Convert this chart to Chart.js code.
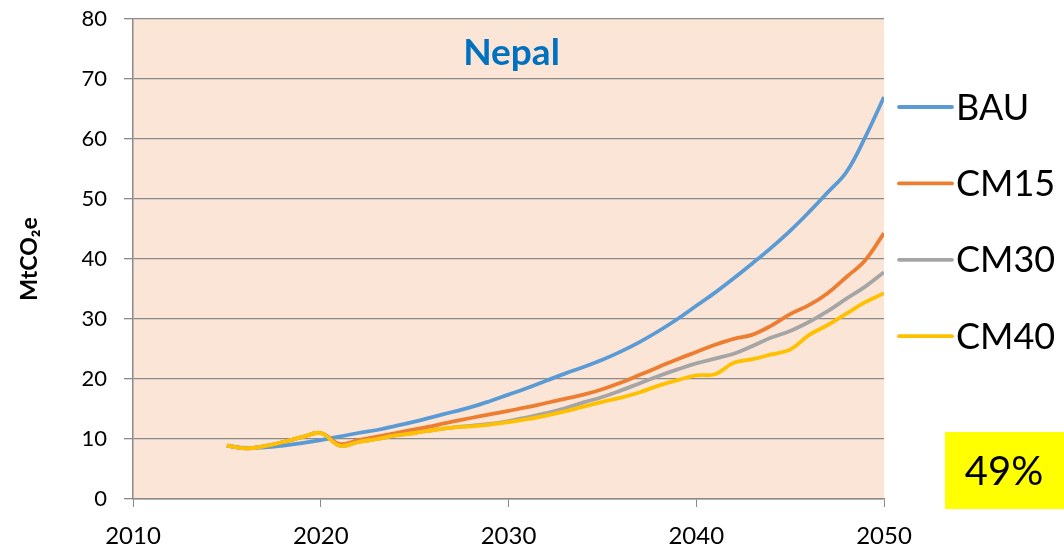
<!DOCTYPE html>
<html lang="en">
  <head>
    <meta charset="UTF-8" />
    <meta name="viewport" content="width=device-width, initial-scale=1.0" />
    <title>Nepal</title>
    <script src="https://cdn.jsdelivr.net/npm/chart.js"></script>
    <style>
      body {
        margin: 0;
        background: #fff;
      }
      .chart-box {
        width: 1064px;
        height: 547px;
      }
    </style>
  </head>
  <body>
    <div class="chart-box">
      <canvas id="myChart"></canvas>
    </div>
    <script>
      const years = [
        2015, 2016, 2017, 2018, 2019, 2020, 2021, 2022, 2023, 2024, 2025, 2026,
        2027, 2028, 2029, 2030, 2031, 2032, 2033, 2034, 2035, 2036, 2037, 2038,
        2039, 2040, 2041, 2042, 2043, 2044, 2045, 2046, 2047, 2048, 2049, 2050,
      ];
      const bau = [
        8.9, 8.5, 8.6, 8.9, 9.3, 9.8, 10.4, 11.0, 11.5, 12.2, 12.9, 13.7, 14.5,
        15.3, 16.3, 17.4, 18.5, 19.7, 20.9, 22.0, 23.2, 24.6, 26.2, 28.0, 30.0,
        32.2, 34.4, 36.8, 39.3, 41.9, 44.7, 47.8, 51.1, 54.5, 60.3, 67.0,
      ];
      const cm15 = [
        8.9, 8.45, 8.8, 9.5, 10.3, 11.0, 9.2, 9.8, 10.4, 11.0, 11.6, 12.2, 12.9,
        13.5, 14.1, 14.7, 15.3, 16.0, 16.7, 17.4, 18.3, 19.4, 20.7, 22.0, 23.3,
        24.5, 25.7, 26.7, 27.4, 28.9, 30.8, 32.3, 34.3, 37.0, 39.8, 44.3,
      ];
      const cm30 = [
        8.9, 8.45, 8.8, 9.5, 10.3, 11.0, 8.9, 9.5, 10.0, 10.6, 11.0, 11.5, 11.9,
        12.2, 12.5, 13.0, 13.6, 14.3, 15.1, 16.1, 17.0, 18.1, 19.3, 20.5, 21.6,
        22.6, 23.4, 24.2, 25.5, 26.9, 28.0, 29.5, 31.3, 33.4, 35.4, 37.8,
      ];
      const cm40 = [
        8.9, 8.45, 8.8, 9.5, 10.3, 11.0, 8.9, 9.5, 10.0, 10.6, 11.0, 11.5, 11.9,
        12.1, 12.4, 12.8, 13.3, 13.9, 14.6, 15.4, 16.2, 16.9, 17.8, 18.9, 19.8,
        20.6, 20.8, 22.7, 23.3, 24.1, 24.9, 27.3, 29.0, 30.9, 32.8, 34.3,
      ];
      const xTicks = [2010, 2020, 2030, 2040, 2050];
      const yTicks = [0, 10, 20, 30, 40, 50, 60, 70, 80];
      const chartTitle = "Nepal";
      const reduction = "49%";

      const FONT = "Lato, 'Open Sans', sans-serif";
      const GRID = "#8a8a8a";

      const toPoints = (vals) => vals.map((v, i) => ({ x: years[i], y: v }));

      // fixed axis sizes; labels may hang over the plot edges
      const fixSize = (prop, size) => (s) => {
        s[prop] = size;
        s.paddingTop = 0;
        s.paddingBottom = 0;
        s.paddingLeft = 0;
        s.paddingRight = 0;
      };

      // peach plot area
      const plotBg = {
        id: "plotBg",
        beforeDraw(chart) {
          const { ctx, chartArea: a } = chart;
          ctx.save();
          ctx.fillStyle = "#fbe5d6";
          ctx.fillRect(a.left, a.top, a.right - a.left, a.bottom - a.top);
          ctx.restore();
        },
      };

      // title inside the plot, legend on the right, yellow percent box
      const extras = {
        id: "extras",
        afterDraw(chart) {
          const { ctx, chartArea: a } = chart;
          ctx.save();
          ctx.textBaseline = "middle";

          ctx.fillStyle = "#0070c0";
          ctx.textAlign = "center";
          ctx.font = "bold 37px " + FONT;
          ctx.fillText(chartTitle, (a.left + a.right) / 2 + 3, 53);

          chart.data.datasets.forEach((ds, i) => {
            const y = 107 + i * 76.4;
            ctx.strokeStyle = ds.borderColor;
            ctx.lineWidth = 3.8;
            ctx.lineCap = "round";
            ctx.beginPath();
            ctx.moveTo(899, y);
            ctx.lineTo(952, y);
            ctx.stroke();
            ctx.fillStyle = "#000";
            ctx.textAlign = "left";
            ctx.font = "36px " + FONT;
            ctx.fillText(ds.label, 956, y + 1);
          });

          ctx.fillStyle = "#ffff00";
          ctx.fillRect(945, 432, 119, 77);
          ctx.fillStyle = "#000";
          ctx.textAlign = "center";
          ctx.font = "40px " + FONT;
          ctx.fillText(reduction, 1004, 472);
          ctx.restore();
        },
      };

      const ctx = document.getElementById("myChart");
      const myChart = new Chart(ctx, {
        type: "line",
        data: {
          datasets: [
            { label: "BAU", data: toPoints(bau), borderColor: "#5b9bd5", order: 4 },
            { label: "CM15", data: toPoints(cm15), borderColor: "#ed7d31", order: 3 },
            { label: "CM30", data: toPoints(cm30), borderColor: "#a5a5a5", order: 2 },
            { label: "CM40", data: toPoints(cm40), borderColor: "#ffc000", order: 1 },
          ],
        },
        options: {
          responsive: true,
          maintainAspectRatio: false,
          animation: false,
          layout: { padding: { top: 19, right: 180, left: 0, bottom: 0 } },
          elements: {
            line: { borderWidth: 3.8, tension: 0.4, fill: false },
            point: { radius: 0 },
          },
          scales: {
            x: {
              type: "linear",
              min: 2010,
              max: 2050,
              afterFit: fixSize("height", 48),
              afterBuildTicks: (s) => {
                s.ticks = xTicks.map((v) => ({ value: v }));
              },
              grid: {
                drawOnChartArea: false,
                drawTicks: true,
                tickLength: 8,
                color: GRID,
              },
              border: { color: GRID, width: 1.5 },
              ticks: {
                color: "#000",
                padding: 15,
                font: { family: FONT, size: 24 },
                callback: (v) => String(v),
                maxRotation: 0,
              },
            },
            y: {
              min: 0,
              max: 80,
              afterFit: fixSize("width", 133),
              afterBuildTicks: (s) => {
                s.ticks = yTicks.map((v) => ({ value: v }));
              },
              grid: { color: GRID, lineWidth: 1.3, tickLength: 9 },
              border: { color: GRID, width: 1.5 },
              ticks: {
                color: "#000",
                padding: 17,
                font: { family: FONT, size: 22 },
              },
              title: {
                display: true,
                text: "MtCO\u2082e",
                color: "#000",
                font: { family: FONT, size: 23, weight: "bold" },
                padding: { top: 16 },
              },
            },
          },
          plugins: {
            legend: { display: false },
            tooltip: { enabled: false },
          },
        },
        plugins: [plotBg, extras],
      });
    </script>
  </body>
</html>
